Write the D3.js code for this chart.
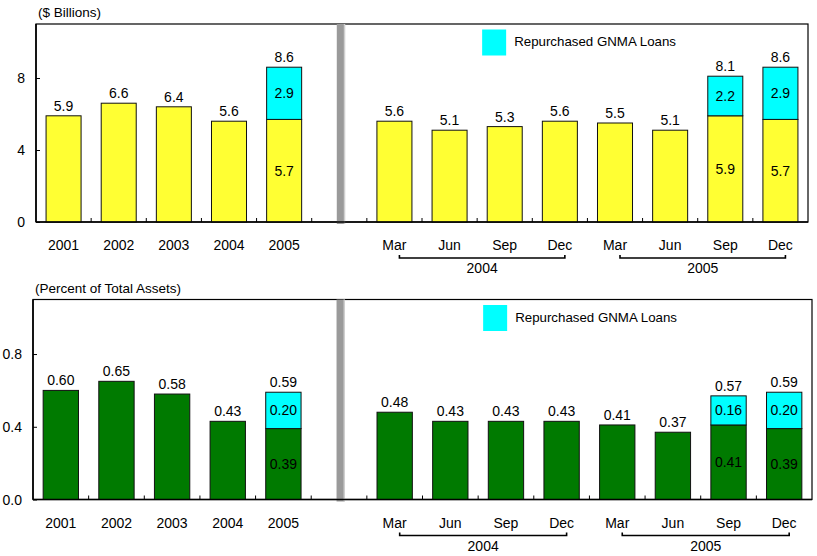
<!DOCTYPE html>
<html>
<head>
  <meta charset="utf-8">
  <title>Repurchased GNMA Loans</title>
  <script src="https://d3js.org/d3.v7.min.js"></script>
  <style>
    body {
      margin: 0;
      background: #fff;
    }
    svg text {
      font-family: "Liberation Sans", Arial, sans-serif;
      fill: #000;
    }
  </style>
</head>
<body>
  <div id="chart"></div>

  <script>
    // slots on the x axis: 5 years, an empty gap, then 8 quarters
    var slotKeys = ["2001", "2002", "2003", "2004", "2005", "gap",
                    "2004Q1", "2004Q2", "2004Q3", "2004Q4", "2005Q1", "2005Q2", "2005Q3", "2005Q4"];
    var tickLabels = ["2001", "2002", "2003", "2004", "2005", "",
                      "Mar", "Jun", "Sep", "Dec", "Mar", "Jun", "Sep", "Dec"];

    // $ billions
    var billionsBase = [5.9, 6.6, 6.4, 5.6, 5.7, null, 5.6, 5.1, 5.3, 5.6, 5.5, 5.1, 5.9, 5.7];
    var billionsGnma = [0, 0, 0, 0, 2.9, null, 0, 0, 0, 0, 0, 0, 2.2, 2.9];

    // percent of total assets
    var percentBase = [0.60, 0.65, 0.58, 0.43, 0.39, null, 0.48, 0.43, 0.43, 0.43, 0.41, 0.37, 0.41, 0.39];
    var percentGnma = [0, 0, 0, 0, 0.20, null, 0, 0, 0, 0, 0, 0, 0.16, 0.20];

    var yearGroups = [
      {label: "2004", from: "2004Q1", to: "2004Q4"},
      {label: "2005", from: "2005Q1", to: "2005Q4"}
    ];

    var gnmaColor = "#00ffff";

    var svg = d3.select("#chart")
      .append("svg")
        .attr("width", 817)
        .attr("height", 556);

    function drawPanel(p) {
      var g = svg.append("g");

      var x = d3.scaleBand()
        .domain(slotKeys)
        .range([p.left, p.right]);

      var y = d3.scaleLinear()
        .domain([0, p.yMax])
        .range([p.bottom, p.top]);

      var barW = x.bandwidth() * 0.635;
      var barX = function(k) { return x(k) + (x.bandwidth() - barW) / 2; };
      var mid = function(k) { return x(k) + x.bandwidth() / 2; };

      // panel title
      g.append("text")
        .attr("x", p.left + 2)
        .attr("y", p.top - 7)
        .style("font-size", "13.5px")
        .text(p.title);

      // frame (top + right)
      g.append("rect")
        .attr("x", p.left)
        .attr("y", p.top)
        .attr("width", p.right - p.left)
        .attr("height", p.bottom - p.top)
        .style("fill", "none")
        .style("stroke", "#000")
        .style("stroke-width", 1.2);

      // grey separator between annual and quarterly data
      var sepX = mid("gap") + 1.5;
      g.append("rect")
        .attr("x", sepX - 4)
        .attr("y", p.top)
        .attr("width", 8)
        .attr("height", p.bottom - p.top + 2)
        .style("fill", "#9a9a9a");
      g.append("rect")
        .attr("x", sepX + 3)
        .attr("y", p.top)
        .attr("width", 1.5)
        .attr("height", p.bottom - p.top + 2)
        .style("fill", "#cfcfcf");

      // bars
      var rows = slotKeys.map(function(k, i) {
        return {key: k, base: p.base[i], gnma: p.gnma[i]};
      }).filter(function(d) { return d.base !== null; });

      var bars = g.append("g").selectAll("g")
        .data(rows)
        .enter()
        .append("g");

      bars.append("rect")
        .attr("x", function(d) { return barX(d.key); })
        .attr("y", function(d) { return y(d.base); })
        .attr("width", barW)
        .attr("height", function(d) { return y(0) - y(d.base); })
        .style("fill", p.color)
        .style("stroke", "#111")
        .style("stroke-width", 1);

      var stacked = bars.filter(function(d) { return d.gnma > 0; });

      stacked.append("rect")
        .attr("x", function(d) { return barX(d.key); })
        .attr("y", function(d) { return y(d.base + d.gnma); })
        .attr("width", barW)
        .attr("height", function(d) { return y(d.base) - y(d.base + d.gnma); })
        .style("fill", gnmaColor)
        .style("stroke", "#111")
        .style("stroke-width", 1);

      // value labels
      bars.append("text")
        .attr("x", function(d) { return mid(d.key); })
        .attr("y", function(d) { return y(d.base + d.gnma) - 5; })
        .attr("text-anchor", "middle")
        .style("font-size", "14px")
        .text(function(d) { return p.fmt(d.base + d.gnma); });

      stacked.append("text")
        .attr("x", function(d) { return mid(d.key); })
        .attr("y", function(d) { return (y(d.base) + y(d.base + d.gnma)) / 2 + 5; })
        .attr("text-anchor", "middle")
        .style("font-size", "14px")
        .text(function(d) { return p.fmt(d.gnma); });

      stacked.append("text")
        .attr("x", function(d) { return mid(d.key); })
        .attr("y", function(d) { return (y(0) + y(d.base)) / 2 + 5; })
        .attr("text-anchor", "middle")
        .style("font-size", "14px")
        .text(function(d) { return p.fmt(d.base); });

      // y axis
      var yAxis = g.append("g")
        .attr("transform", "translate(" + p.left + ",0)")
        .call(d3.axisRight(y).tickValues(p.yTicks).tickFormat(p.yFmt).tickSize(4));
      yAxis.select(".domain").remove();
      yAxis.selectAll("line").style("stroke", "#000");
      yAxis.selectAll("text")
        .attr("x", -11)
        .attr("dy", "0.35em")
        .attr("text-anchor", "end")
        .style("font-size", "14px");

      g.append("line")
        .attr("x1", p.left).attr("x2", p.left)
        .attr("y1", p.top).attr("y2", p.bottom)
        .style("stroke", "#000")
        .style("stroke-width", 1.6);

      // x axis: ticks at slot boundaries, pointing up
      g.append("g").selectAll("line")
        .data(slotKeys.slice(1))
        .enter()
        .append("line")
          .attr("x1", function(k) { return x(k); })
          .attr("x2", function(k) { return x(k); })
          .attr("y1", p.bottom)
          .attr("y2", p.bottom - 4)
          .style("stroke", "#000");

      g.append("line")
        .attr("x1", p.left).attr("x2", p.right)
        .attr("y1", p.bottom).attr("y2", p.bottom)
        .style("stroke", "#000")
        .style("stroke-width", 1.6);

      g.append("g").selectAll("text")
        .data(slotKeys)
        .enter()
        .append("text")
          .attr("x", function(k) { return mid(k); })
          .attr("y", p.bottom + 28)
          .attr("text-anchor", "middle")
          .style("font-size", "14px")
          .text(function(k, i) { return tickLabels[i]; });

      // year brackets under the quarters
      yearGroups.forEach(function(grp) {
        var x0 = mid(grp.from) + 5, x1 = mid(grp.to) + 5, by = p.bottom + 36;
        g.append("path")
          .attr("d", "M" + x0 + "," + (by - 3) + "V" + by + "H" + x1 + "V" + (by - 3))
          .style("fill", "none")
          .style("stroke", "#000")
          .style("stroke-width", 1.6);
        g.append("text")
          .attr("x", (x0 + x1) / 2)
          .attr("y", by + 15)
          .attr("text-anchor", "middle")
          .style("font-size", "14px")
          .text(grp.label);
      });

      // legend
      var lx = x("2004Q3") + 5;
      g.append("rect")
        .attr("x", lx)
        .attr("y", p.top + 5.5)
        .attr("width", 24)
        .attr("height", 26)
        .style("fill", gnmaColor);
      g.append("text")
        .attr("x", lx + 32)
        .attr("y", p.top + 22)
        .style("font-size", "13.3px")
        .text("Repurchased GNMA Loans");
    }

    drawPanel({
      title: "($ Billions)",
      left: 36, right: 808, top: 24, bottom: 222,
      yMax: 11, yTicks: [0, 4, 8], yFmt: d3.format("d"),
      base: billionsBase, gnma: billionsGnma,
      fmt: d3.format(".1f"), color: "#ffff33"
    });

    drawPanel({
      title: "(Percent of Total Assets)",
      left: 33, right: 812, top: 299.5, bottom: 499.5,
      yMax: 1.1, yTicks: [0, 0.4, 0.8], yFmt: d3.format(".1f"),
      base: percentBase, gnma: percentGnma,
      fmt: d3.format(".2f"), color: "#007a00"
    });
  </script>
</body>
</html>
